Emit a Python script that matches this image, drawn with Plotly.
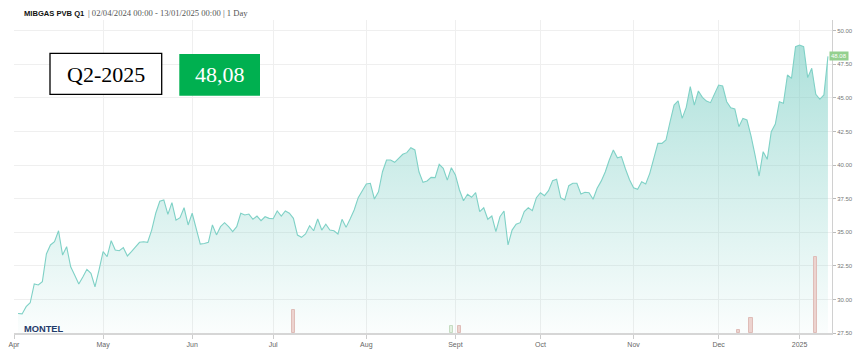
import pandas as pd
import plotly.graph_objects as go

# ---------------- data ----------------
holidays = ["2024-05-01", "2024-12-25", "2024-12-26", "2025-01-01"]
first_day, last_day = "2024-04-02", "2025-01-13"

apr = [28.95, 28.92, 29.46, 29.75, 31.15, 31.07, 31.32, 33.38, 34.05, 34.29, 35.11,
       33.30, 33.92, 32.43, 31.80, 31.15, 31.67, 32.24, 31.94, 30.94, 32.20]
may = [33.55, 33.18, 34.37, 33.68, 33.62, 33.85, 33.23, 33.55, 33.90, 34.25, 34.29,
       34.25, 35.16, 36.41, 37.30, 37.40, 36.33, 37.20, 35.90, 36.08, 36.82, 35.54]
jun = [36.41, 35.24, 34.12, 34.16, 34.25, 35.54, 34.80, 35.41, 35.71, 35.41, 35.04,
       35.41, 36.41, 36.28, 36.35, 35.96, 36.20, 35.86, 36.15, 36.03]
jul = [36.00, 36.58, 36.20, 36.58, 36.41, 36.03, 34.79, 34.62, 34.87, 35.48, 35.11,
       35.98, 35.16, 35.59, 35.16, 35.11, 34.87, 35.96, 35.36, 35.98, 36.65, 37.57, 38.07]
aug = [38.59, 38.64, 37.47, 38.01, 39.50, 40.37, 40.37, 40.20, 40.50, 40.80, 40.92,
       41.29, 41.12, 39.50, 38.71, 38.81, 39.08, 39.06, 40.05, 39.75, 38.88, 39.80]
sep = [39.26, 38.14, 37.34, 37.82, 37.60, 37.94, 36.53, 36.82, 35.96, 36.20, 35.04,
       36.15, 36.58, 34.05, 35.16, 35.59, 35.71, 36.53, 36.82, 36.60, 37.57]
oct_ = [37.94, 37.72, 38.09, 38.83, 38.94, 37.57, 37.40, 38.46, 38.64, 38.64, 37.84,
        37.97, 37.94, 37.45, 38.27, 38.80, 39.48, 40.37, 41.12, 40.54, 40.62, 39.70, 38.90]
nov = [38.30, 38.19, 38.76, 38.59, 39.38, 40.52, 41.61, 41.61, 41.86, 43.20, 44.46,
       44.78, 43.47, 44.29, 45.83, 44.46, 45.51, 45.04, 44.76, 44.64, 45.28]
dec = [45.95, 45.88, 44.71, 44.26, 44.17, 42.85, 43.47, 43.35, 42.16, 40.74, 39.18,
       40.99, 40.42, 42.48, 43.05, 44.71, 44.59, 46.70, 46.45, 48.80]
jan = [48.93, 48.80, 46.50, 47.20, 45.26, 44.89, 45.21, 48.08]

vol_dates = ["2024-07-08", "2024-08-30", "2024-09-03", "2024-12-09", "2024-12-12", "2025-01-08"]
vol_values = [30, 9, 9, 4, 20, 100]
vol_colors = ["#ecd3cf", "#e2f0e0", "#ecd3cf", "#ecd3cf", "#ecd3cf", "#ecd3cf"]
vol_lines = ["#dfbdb8", "#c5dcc2", "#dfbdb8", "#dfbdb8", "#dfbdb8", "#dfbdb8"]

tick_dates = ["2024-04-01", "2024-05-02", "2024-06-03", "2024-07-01", "2024-08-01",
              "2024-09-02", "2024-10-01", "2024-11-01", "2024-12-02", "2025-01-02"]
tick_text = ["Apr", "May", "Jun", "Jul", "Aug", "Sept", "Oct", "Nov", "Dec", "2025"]
y_ticks = [27.5, 30, 32.5, 35, 37.5, 40, 42.5, 45, 47.5, 50]

product = "MIBGAS PVB Q1"
period = "| 02/04/2024 00:00 - 13/01/2025 00:00 | 1 Day"
contract = "Q2-2025"
last_price_text = "48,08"
last_price = 48.08

prices = apr + may + jun + jul + aug + sep + oct_ + nov + dec + jan
days = pd.bdate_range(first_day, last_day, freq="C", holidays=holidays)
assert len(days) == len(prices)

# ---------------- layout geometry ----------------
W, H = 860, 363
ML, MR, MT, MB = 14, 28, 20, 30
PW, PH = W - ML - MR, H - MT - MB


def px(x):
    return (x - ML) / PW


def py(y):
    return (H - MB - y) / PH


fig = go.Figure()

fig.add_trace(go.Bar(
    x=vol_dates, y=vol_values, yaxis="y2",
    marker=dict(color=vol_colors, line=dict(color=vol_lines, width=1)),
    width=0.8 * 86400000, showlegend=False, hoverinfo="skip",
))

fig.add_trace(go.Scatter(
    x=days, y=prices, mode="lines",
    line=dict(color="#7fd1c6", width=1.1),
    fill="tozeroy",
    fillgradient=dict(type="vertical", start=27.5, stop=49.5,
                      colorscale=[[0, "rgba(120,205,195,0.03)"],
                                  [1, "rgba(120,205,195,0.62)"]]),
    showlegend=False, hoverinfo="skip",
))

shapes = [
    dict(type="rect", xref="paper", yref="paper", x0=px(50), x1=px(161.7),
         y0=py(94.3), y1=py(53.3), line=dict(color="black", width=1.3),
         fillcolor="white", layer="above"),
    dict(type="rect", xref="paper", yref="paper", x0=px(179.3), x1=px(260),
         y0=py(95.7), y1=py(54), line=dict(width=0),
         fillcolor="#00b050", layer="above"),
]

annotations = [
    dict(xref="paper", yref="paper", x=px(22), y=py(13), xanchor="left", yanchor="middle",
         text="<b>" + product + "</b>", showarrow=False,
         font=dict(family="Liberation Sans", size=7.6, color="#111")),
    dict(xref="paper", yref="paper", x=px(85.5), y=py(13), xanchor="left", yanchor="middle",
         text=period, showarrow=False,
         font=dict(family="Liberation Serif", size=8.6, color="#555")),
    dict(xref="paper", yref="paper", x=px(106), y=py(74.5), xanchor="center", yanchor="middle",
         text=contract, showarrow=False,
         font=dict(family="Liberation Serif", size=22, color="black")),
    dict(xref="paper", yref="paper", x=px(219.7), y=py(75), xanchor="center", yanchor="middle",
         text=last_price_text, showarrow=False,
         font=dict(family="Liberation Serif", size=22, color="white")),
    dict(xref="paper", yref="y", x=1, y=last_price, xanchor="left", yanchor="middle",
         xshift=-3, text=f"{last_price:.2f}", showarrow=False, bgcolor="#94d08f",
         borderpad=1, font=dict(family="Liberation Sans", size=6, color="white")),
    dict(xref="paper", yref="paper", x=px(43.7), y=py(328.7), xanchor="center", yanchor="middle",
         text="<b>MONTEL</b>", showarrow=False,
         font=dict(family="Liberation Sans", size=9.3, color="#1f3b6b")),
]

fig.update_layout(
    width=W, height=H,
    margin=dict(l=ML, r=MR, t=MT, b=MB, pad=0, autoexpand=False),
    paper_bgcolor="white", plot_bgcolor="white",
    showlegend=False, hovermode=False,
    shapes=shapes, annotations=annotations,
    bargap=0,
    xaxis=dict(
        type="date", automargin=False,
        range=["2024-04-01 00:00", "2025-01-14 00:00"],
        rangebreaks=[dict(bounds=["sat", "mon"]), dict(values=holidays)],
        tickmode="array", tickvals=tick_dates, ticktext=tick_text,
        ticks="outside", ticklen=4, tickcolor="#cccccc", tickwidth=1,
        tickfont=dict(family="Liberation Sans", size=7, color="#666"),
        showgrid=True, gridcolor="#efefef", gridwidth=1,
        showline=True, linecolor="#d6d6d6", linewidth=2,
        zeroline=False, fixedrange=True,
    ),
    yaxis=dict(
        side="right", range=[27.5, 50.79], automargin=False,
        tickmode="array", tickvals=y_ticks, tickformat=".2f",
        ticks="outside", ticklen=3, tickcolor="#bbbbbb",
        tickfont=dict(family="Liberation Sans", size=6, color="#777"),
        showgrid=True, gridcolor="#efefef", gridwidth=1,
        showline=True, linecolor="#d0d0d0", linewidth=1,
        zeroline=False, fixedrange=True,
    ),
    yaxis2=dict(overlaying="y", range=[0, 412], visible=False, fixedrange=True),
)

fig.write_html(
    "out.html",
    config={"displayModeBar": False},
    post_script="document.body.style.margin='0px';document.body.style.overflow='hidden';",
)
